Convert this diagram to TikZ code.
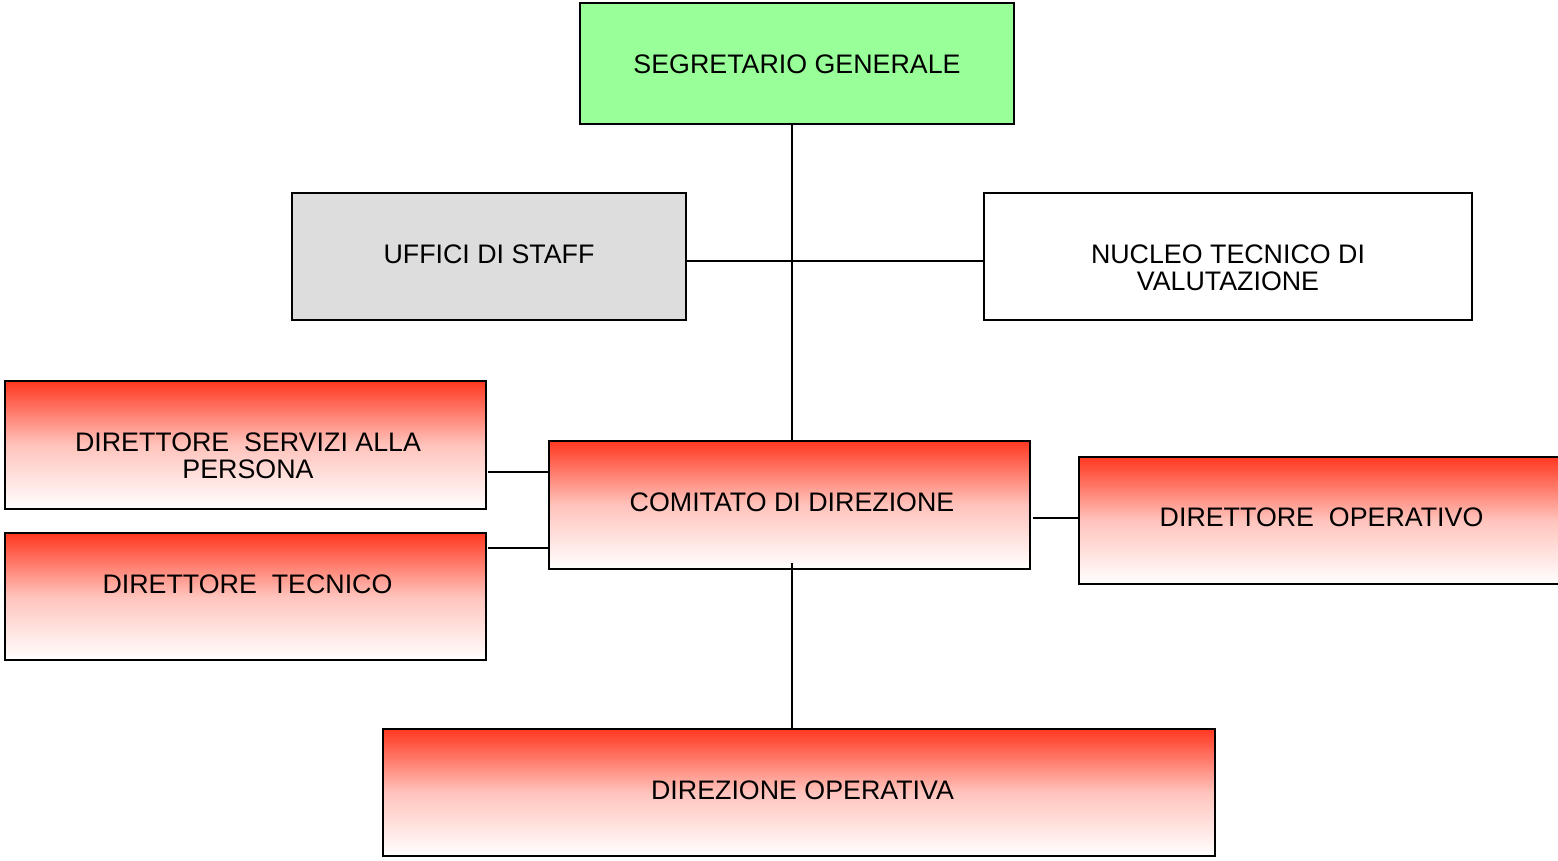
\documentclass[tikz,border=0pt]{standalone}
\usepackage{fontspec}
\setmainfont{Liberation Sans}
\usepackage{xcolor}
\definecolor{orgreen}{RGB}{153,255,153}
\definecolor{orgray}{RGB}{221,221,221}
\definecolor{orred}{RGB}{255,56,32}
\usepackage{tikz}
\usetikzlibrary{calc}

\begin{document}
\begin{tikzpicture}[x=0.01cm, y=-0.01cm,
  obox/.style={rectangle, draw=black, line width=0.6pt, fill=#1, outer sep=0pt, inner sep=0pt},
  rbox/.style={rectangle, draw=black, line width=0.6pt, outer sep=0pt, inner sep=0pt,
               top color=orred, bottom color=white, middle color=orred!30!white},
  ttl/.style={font=\fontsize{7.62}{7.7}\selectfont, align=center},
  link/.style={draw=black, line width=0.8pt}
]
\clip (0,0) rectangle (1558,860);

% vertice
\node[obox=orgreen, minimum width=4.34cm, minimum height=1.21cm] (seg) at (797,63.5) {};
\node[ttl] at (797,64) {SEGRETARIO GENERALE};

% staff
\node[obox=orgray, minimum width=3.94cm, minimum height=1.27cm] (staff) at (489,256.5) {};
\node[ttl] at (489,254) {UFFICI DI STAFF};

\node[obox=white, minimum width=4.88cm, minimum height=1.27cm] (nuc) at (1228,256.5) {};
\node[ttl] at (1228,267.5) {NUCLEO TECNICO DI\\VALUTAZIONE};

% direttori
\node[rbox, minimum width=4.81cm, minimum height=1.28cm] (dsp) at (245.5,445) {};
\node[ttl] at (248,455.5) {DIRETTORE\ \ SERVIZI ALLA\\PERSONA};

\node[rbox, minimum width=4.81cm, minimum height=1.27cm] (dt) at (245.5,596.5) {};
\node[ttl] at (247.5,584) {DIRETTORE\ \ TECNICO};

\node[rbox, minimum width=4.81cm, minimum height=1.28cm] (com) at (789.5,505) {};
\node[ttl] at (792,502) {COMITATO DI DIREZIONE};

\node[rbox, minimum width=4.85cm, minimum height=1.27cm] (dop) at (1321.5,520.5) {};
\node[ttl] at (1321.5,517) {DIRETTORE\ \ OPERATIVO};

\node[rbox, minimum width=8.32cm, minimum height=1.27cm] (dirop) at (799,792.5) {};
\node[ttl] at (802.5,790) {DIREZIONE OPERATIVA};

% collegamenti
\draw[link] ($(seg.south)+(-5,0)$) coordinate (ss) -- (ss |- com.north);
\draw[link] ($(staff.east)+(0,4.5)$) -- ($(nuc.west)+(0,4.5)$);
\draw[link] ($(dsp.east)+(2,27)$) -- ($(com.west)+(0,-33)$);
\draw[link] ($(dt.east)+(2,-48.5)$) -- ($(com.west)+(0,43)$);
\draw[link] ($(com.east)+(3,13)$) -- ($(dop.west)+(0,-2.5)$);
\draw[link] ($(com.south)+(2.5,-6)$) coordinate (cs) -- (cs |- dirop.north);
\end{tikzpicture}
\end{document}
